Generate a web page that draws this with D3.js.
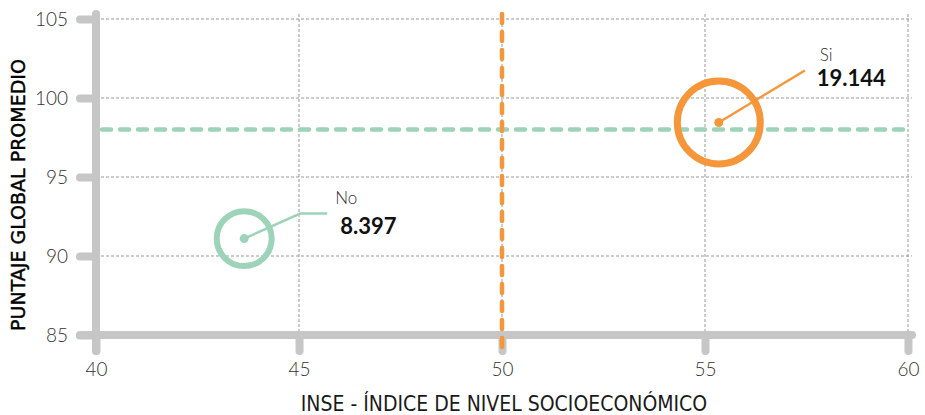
<!DOCTYPE html>
<html>
<head>
<meta charset="utf-8">
<script src="https://cdn.jsdelivr.net/npm/d3@7"></script>
<style>
  body { margin: 0; background: #fff; }
  svg { display: block; }
</style>
</head>
<body>
<div id="chart"></div>
<script>
// data
var groups = ["No", "Si"];
var inse = [43.65, 55.34];
var puntaje = [91.1, 98.45];
var totals = [8.397, 19.144];
var totalLabels = ["8.397", "19.144"];
var colors = ["#9dd4b9", "#f5963a"];
var meanPuntaje = 98;
var meanInse = 50;
var xTicks = [40, 45, 50, 55, 60];
var yTicks = [85, 90, 95, 100, 105];

const width = 925, height = 415;
var gray = "#c6c6c6";

var svg = d3.select("#chart").append("svg")
    .attr("width", width)
    .attr("height", height);

var x = d3.scaleLinear().domain([40, 60]).range([96, 908]);
var y = d3.scaleLinear().domain([85, 105]).range([335, 19]);
var r = d3.scaleSqrt().domain([0, 19.144]).range([0, 41.5]);

// grid
var grid = svg.append("g");
grid.selectAll("line.gx")
    .data(xTicks.slice(1))
    .enter().append("line")
    .attr("x1", d => x(d)).attr("x2", d => x(d))
    .attr("y1", y(105) - 5).attr("y2", y(85))
    .attr("stroke", "#999").attr("stroke-width", 1)
    .attr("stroke-dasharray", "3,2");
grid.selectAll("line.gy")
    .data(yTicks.slice(1))
    .enter().append("line")
    .attr("x1", x(40)).attr("x2", x(60) + 4)
    .attr("y1", d => y(d)).attr("y2", d => y(d))
    .attr("stroke", "#999").attr("stroke-width", 1)
    .attr("stroke-dasharray", "3,2");

// axes
var yAxis = svg.append("g")
    .attr("transform", "translate(" + x(40) + ",0)")
    .call(d3.axisLeft(y).tickValues(yTicks).tickSize(16).tickPadding(12));
var xAxis = svg.append("g")
    .attr("transform", "translate(0," + y(85) + ")")
    .call(d3.axisBottom(x).tickValues(xTicks).tickSize(16).tickPadding(12));

[xAxis, yAxis].forEach(function(a) {
  a.select(".domain").remove();
  a.selectAll(".tick line")
    .attr("stroke", gray).attr("stroke-width", 8).attr("stroke-linecap", "round");
  a.selectAll(".tick text")
    .attr("fill", "#333")
    .style("font-family", "Lato, sans-serif")
    .style("font-weight", 300)
    .style("font-size", "19px");
});

svg.append("line")
    .attr("x1", x(40)).attr("x2", x(40))
    .attr("y1", y(105) - 5).attr("y2", y(85) + 16)
    .attr("stroke", gray).attr("stroke-width", 8).attr("stroke-linecap", "round");
svg.append("line")
    .attr("x1", x(40) - 16).attr("x2", x(60) + 4)
    .attr("y1", y(85)).attr("y2", y(85))
    .attr("stroke", gray).attr("stroke-width", 8).attr("stroke-linecap", "round");

// reference lines
svg.append("line")
    .attr("x1", x(40) + 6).attr("x2", x(60))
    .attr("y1", y(meanPuntaje)).attr("y2", y(meanPuntaje))
    .attr("stroke", colors[0]).attr("stroke-width", 4.5)
    .attr("stroke-linecap", "round")
    .attr("stroke-dasharray", "9,9");
svg.append("line")
    .attr("x1", x(meanInse)).attr("x2", x(meanInse))
    .attr("y1", y(105) - 5).attr("y2", y(85) + 16)
    .attr("stroke", colors[1]).attr("stroke-width", 4.5)
    .attr("stroke-linecap", "round")
    .attr("stroke-dasharray", "9,9");

// bubbles
var leaders = [
  [[0, 0], [56, -25], [83, -25]],
  [[0, 0], [86, -52]]
];
var labelPos = [[91, -35, 96, -5], [101, -61, 98, -36]];

groups.forEach(function(g, i) {
  var cx = x(inse[i]), cy = y(puntaje[i]);
  var node = svg.append("g").attr("transform", "translate(" + cx + "," + cy + ")");
  node.append("circle")
      .attr("r", r(totals[i]))
      .attr("fill", "none")
      .attr("stroke", colors[i])
      .attr("stroke-width", i == 0 ? 6 : 7);
  node.append("path")
      .attr("d", d3.line()(leaders[i]))
      .attr("fill", "none")
      .attr("stroke", colors[i])
      .attr("stroke-width", 2.5);
  node.append("circle")
      .attr("r", 4.5)
      .attr("fill", colors[i]);
  node.append("text")
      .attr("x", labelPos[i][0]).attr("y", labelPos[i][1])
      .attr("fill", "#333")
      .style("font-family", "Lato, sans-serif")
      .style("font-weight", 300)
      .style("font-size", "17px")
      .text(g);
  node.append("text")
      .attr("x", labelPos[i][2]).attr("y", labelPos[i][3])
      .attr("fill", "#111")
      .style("font-family", "Lato, sans-serif")
      .style("font-weight", 700)
      .style("font-size", "22px")
      .text(totalLabels[i]);
});

// titles
svg.append("text")
    .attr("transform", "translate(25,195) rotate(-90)")
    .attr("text-anchor", "middle")
    .attr("fill", "#000")
    .attr("stroke", "#000")
    .attr("stroke-width", 0.4)
    .style("font-family", "'DejaVu Sans', sans-serif")
    .style("font-size", "19px")
    .text("PUNTAJE GLOBAL PROMEDIO");
svg.append("text")
    .attr("x", 504).attr("y", 411)
    .attr("text-anchor", "middle")
    .attr("fill", "#1a1a1a")
    .style("font-family", "'Liberation Sans Narrow', 'DejaVu Sans Condensed', sans-serif")
    .style("font-size", "21px")
    .text("INSE - ÍNDICE DE NIVEL SOCIOECONÓMICO");
</script>
</body>
</html>
